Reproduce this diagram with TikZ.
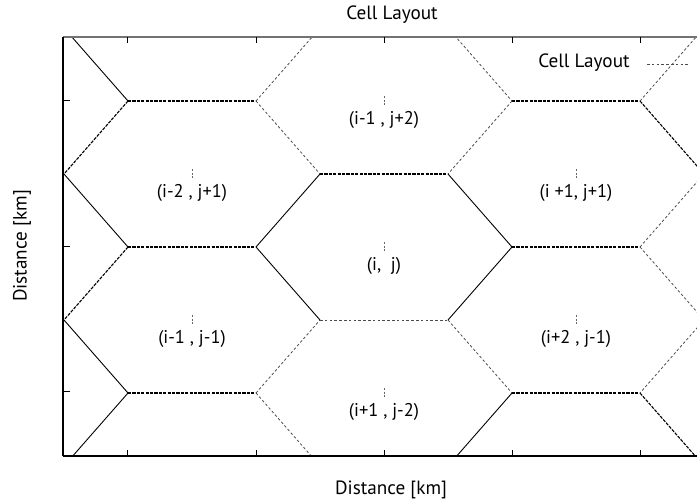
\documentclass[tikz,border=0pt]{standalone}
\usepackage{fontspec}
\setmainfont{PT Sans}
\begin{document}
\begin{tikzpicture}[x=0.5pt,y=-0.5pt,
  solidedge/.style={black, line width=0.45pt},
  dashedge/.style={black, line width=0.55pt, dash pattern=on 1.6pt off 0.6pt},
  fineedge/.style={black!70, line width=0.4pt, dash pattern=on 1.3pt off 1.1pt},
  celllabel/.style={font=\fontsize{9.2pt}{11pt}\selectfont, inner sep=0pt},
  axislabel/.style={font=\fontsize{9.6pt}{11pt}\selectfont, inner sep=0pt},
  centermark/.style={black!60, line width=0.35pt, dash pattern=on 1pt off 0.8pt},
  tickmark/.style={black, line width=0.5pt}]
\useasboundingbox (0,0) rectangle (697,502);

% hexagon grid vertices
\foreach \n/\x/\y in {a/64/28,b/128/101,c/256/101,d/320/28,e/320/174,f/448/174,g/512/101,h/448/28,
  i/640/101,j/704/28,k/704/174,l/64/174,m/128/247,n/256/247,o/512/247,p/640/247,q/704/320,
  r/64/320,s/320/320,t/448/320,u/128/393,v/256/393,w/512/393,x/640/393,y/704/466,z/64/466,
  aa/320/466,bb/448/466}
  {\coordinate (\n) at (\x,\y);}

\begin{scope}
\clip (63,37) rectangle (697,456);
% solid-looking edges
\draw[solidedge] (b) -- (a);
\draw[solidedge] (l) -- (m);
\draw[solidedge] (r) -- (u);
\draw[solidedge] (u) -- (z);
\draw[solidedge] (n) -- (e);
\draw[solidedge] (n) -- (s);
\draw[solidedge] (f) -- (o);
\draw[solidedge] (o) -- (t);
\draw[solidedge] (w) -- (bb);
% bold dashed edges
\draw[dashedge] (b) -- (c);
\draw[dashedge] (b) -- (l);
\draw[dashedge] (m) -- (n);
\draw[dashedge] (m) -- (r);
\draw[dashedge] (u) -- (v);
\draw[dashedge] (e) -- (f);
\draw[dashedge] (g) -- (i);
\draw[dashedge] (i) -- (k);
\draw[dashedge] (o) -- (p);
\draw[dashedge] (w) -- (x);
\draw[dashedge] (x) -- (y);
% fine dashed edges
\draw[fineedge] (c) -- (d);
\draw[fineedge] (c) -- (e);
\draw[fineedge] (h) -- (g);
\draw[fineedge] (g) -- (f);
\draw[fineedge] (i) -- (j);
\draw[fineedge] (p) -- (k);
\draw[fineedge] (p) -- (q);
\draw[fineedge] (q) -- (x);
\draw[fineedge] (s) -- (t);
\draw[fineedge] (v) -- (s);
\draw[fineedge] (v) -- (aa);
\draw[fineedge] (t) -- (w);
\end{scope}

% axes frame
\draw[black!55, line width=1.1pt] (63,37) -- (697,37);
\draw[black, line width=0.8pt] (63,456) -- (697,456);
\draw[black, line width=0.6pt] (63,37) -- (63,456);
\foreach \tx in {127,256,384,512,640} {
  \draw[tickmark] (\tx,456) -- (\tx,450);
  \draw[tickmark] (\tx,37) -- (\tx,43);
}
\foreach \ty in {101,247,392} {
  \draw[tickmark] (63,\ty) -- (70,\ty);
}

% cell centre marks and labels
\foreach \n/\cx/\cy/\txt in {L1/192/174/{(i-2 , j+1)},L2/384/101/{(i-1 , j+2)},L3/576/174/{(i +1, j+1)},
  L4/384/247/{(i,\ \ j)},L5/192/320/{(i-1 , j-1)},L6/576/320/{(i+2 , j-1)},L7/384/393/{(i+1 , j-2)}}{
  \draw[centermark] (\cx,\cy-5) -- (\cx,\cy+4);
  \node[celllabel] (\n) at (\cx,\cy+19) {\txt};
}

% legend
\node[axislabel, anchor=east] (legendtext) at (630,63) {Cell Layout};
\coordinate (legA) at (647,64);
\coordinate (legB) at (688,64);
\draw[fineedge] (legA) -- (legB);

% titles
\node[axislabel] (title) at (392,15) {Cell Layout};
\node[axislabel] (xlabel) at (391,490) {Distance [km]};
\node[axislabel, rotate=90] (ylabel) at (22,246) {Distance [km]};
\end{tikzpicture}
\end{document}
